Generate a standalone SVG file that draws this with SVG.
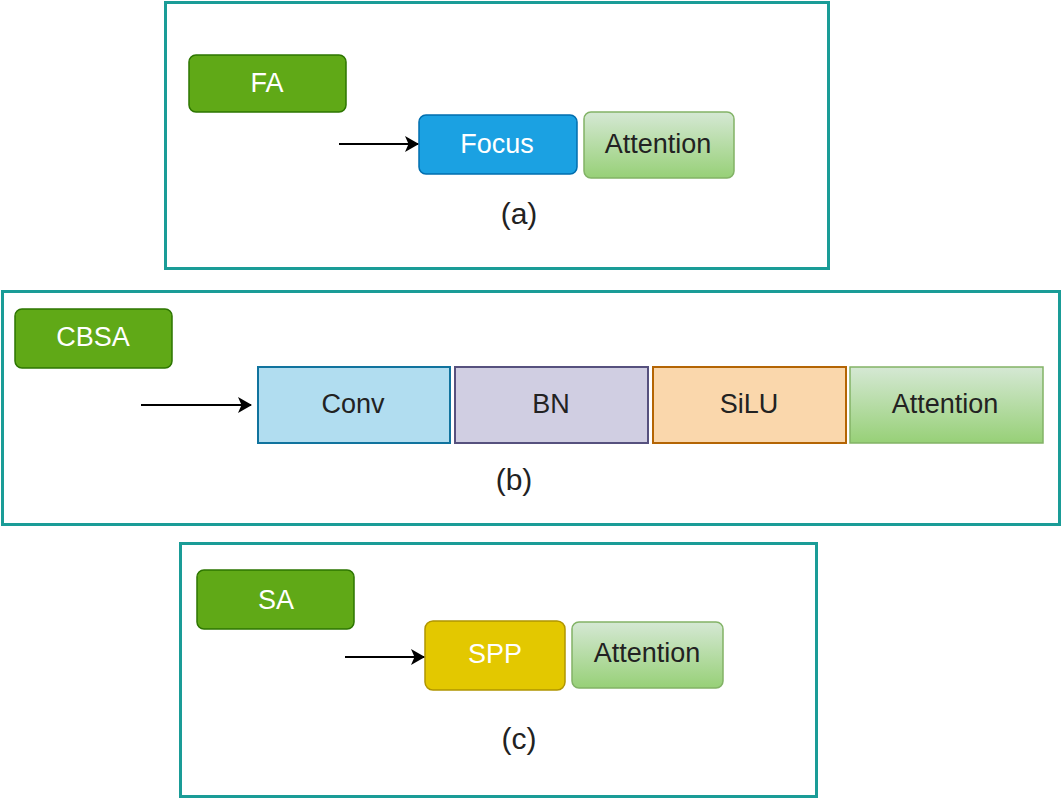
<svg xmlns="http://www.w3.org/2000/svg" width="1062" height="801" viewBox="0 0 1062 801">
<style>
.panel{fill:#fff;stroke:#1a9c97;stroke-width:3}
.tag{fill:#60a917;stroke:#2d7600;stroke-width:1.5}
.att{fill:url(#g);stroke:#82b366;stroke-width:1.5}
.t{font-family:"Liberation Sans",Arial,sans-serif;font-size:27px;text-anchor:middle;dominant-baseline:central}
.w{fill:#fff}
.k{fill:#222}
.cap{font-family:"Liberation Sans",Arial,sans-serif;font-size:30px;text-anchor:middle;dominant-baseline:central;fill:#222}
.conn{stroke:#000;stroke-width:2.2;fill:none;marker-end:url(#ah)}
</style>
<defs>
<linearGradient id="g" x1="0" y1="0" x2="0" y2="1">
<stop offset="0" stop-color="#d5e8d4"/>
<stop offset="1" stop-color="#97d077"/>
</linearGradient>
<marker id="ah" viewBox="0 0 14 16" refX="13" refY="8" markerWidth="14" markerHeight="16" orient="auto" markerUnits="userSpaceOnUse">
<path d="M0,0 L14,8 L0,16 L3.5,8 Z" fill="#000"/>
</marker>
</defs>
<g id="panel-a">
<rect class="panel" x="165.5" y="2.5" width="663" height="266"/>
<text class="cap" x="519" y="213">(a)</text>
</g>
<g id="fa"><rect class="tag" x="189" y="55" width="157" height="57" rx="7"/><text class="t w" x="267" y="83">FA</text></g>
<g id="focus"><rect x="419" y="115" width="158" height="59" rx="7" fill="#1ba1e2" stroke="#006eaf" stroke-width="1.5"/><text class="t w" x="497" y="144">Focus</text></g>
<g id="att-a"><rect class="att" x="584" y="112" width="150" height="66" rx="7"/><text class="t k" x="658" y="144">Attention</text></g>

<g id="panel-b">
<rect class="panel" x="2.5" y="291.5" width="1057" height="233"/>
<text class="cap" x="514" y="479">(b)</text>
</g>
<g id="cbsa"><rect class="tag" x="15" y="309" width="157" height="59" rx="7"/><text class="t w" x="93" y="337">CBSA</text></g>
<g id="conv"><rect x="258" y="367" width="192" height="76" fill="#b1ddf0" stroke="#10739e" stroke-width="2"/><text class="t k" x="353" y="404">Conv</text></g>
<g id="bn"><rect x="455" y="367" width="193" height="76" fill="#d0cee2" stroke="#56517e" stroke-width="2"/><text class="t k" x="551" y="404">BN</text></g>
<g id="silu"><rect x="653" y="367" width="193" height="76" fill="#fad7ac" stroke="#b46504" stroke-width="2"/><text class="t k" x="749" y="404">SiLU</text></g>
<g id="att-b"><rect class="att" x="850" y="367" width="193" height="76"/><text class="t k" x="945" y="404">Attention</text></g>

<g id="panel-c">
<rect class="panel" x="180.5" y="543.5" width="636" height="253"/>
<text class="cap" x="519" y="738">(c)</text>
</g>
<g id="sa"><rect class="tag" x="197" y="570" width="157" height="59" rx="7"/><text class="t w" x="276" y="600">SA</text></g>
<g id="spp"><rect x="425" y="621" width="140" height="69" rx="8" fill="#e3c800" stroke="#b09500" stroke-width="1.5"/><text class="t w" x="495" y="654">SPP</text></g>
<g id="att-c"><rect class="att" x="572" y="622" width="151" height="66" rx="7"/><text class="t k" x="647" y="653">Attention</text></g>

<g id="connectors">
<line class="conn" x1="339" y1="144" x2="418" y2="144"/>
<line class="conn" x1="141" y1="405" x2="251" y2="405"/>
<line class="conn" x1="345" y1="657" x2="424" y2="657"/>
</g>
</svg>
